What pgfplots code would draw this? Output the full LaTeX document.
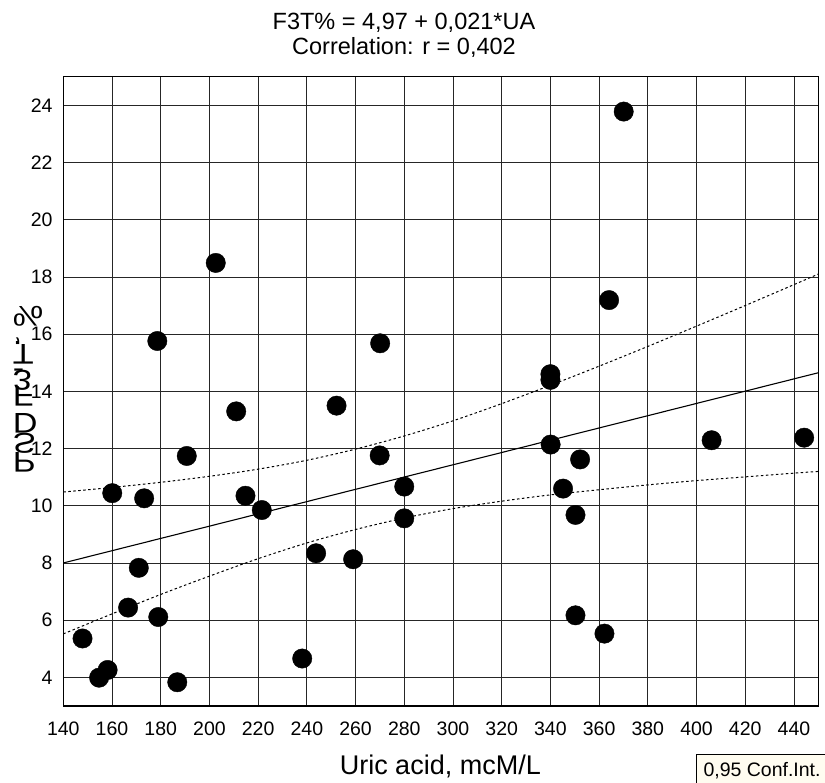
\documentclass[border=0pt]{standalone}
\usepackage{fontspec}
\setmainfont{Liberation Sans}
\usepackage{graphicx}
\usepackage{pgfplots}
\pgfplotsset{compat=1.18}
\definecolor{cream}{RGB}{255,252,240}
\newcommand{\fc}[1]{\sbox0{#1}\makebox[\wd0][c]{\rotatebox{-90}{\scalebox{1.2}[-1]{#1}}}}
\begin{document}
\begin{tikzpicture}
\begin{axis}[
  name=ax,
  scale only axis,
  width=755pt, height=629.3pt,
  xmin=140, xmax=450, ymin=3, ymax=25,
  xtick={140,160,...,440},
  ytick={4,6,...,24},
  grid=major,
  major grid style={black!85, line width=0.8pt},
  axis line style={black, line width=1.1pt},
  major tick length=0pt,
  tick style={draw=none},
  /pgf/number format/assume math mode=true,
  /pgf/number format/1000 sep={},
  ticklabel style={font=\fontsize{19.5}{23}\selectfont},
  xticklabel style={anchor=north, inner sep=0pt, yshift=-16pt},
  yticklabel style={anchor=east, inner sep=0pt, xshift=-10.6pt},
  clip=false,
]
% confidence band (0.95)
\addplot[black, line width=1pt, dash pattern=on 2.5pt off 2.5pt, smooth] coordinates {
(140,10.48) (160,10.64) (180,10.82) (200,11.03) (220,11.28) (240,11.59) (260,11.98)
(280,12.44) (300,12.97) (320,13.57) (340,14.21) (360,14.88) (380,15.57) (400,16.28)
(420,17.00) (440,17.73) (450,18.10)};
\addplot[black, line width=1pt, dash pattern=on 2.5pt off 2.5pt, smooth] coordinates {
(140,5.52) (160,6.22) (180,6.90) (200,7.54) (220,8.15) (240,8.70) (260,9.17)
(280,9.57) (300,9.90) (320,10.16) (340,10.38) (360,10.56) (380,10.73) (400,10.88)
(420,11.01) (440,11.14) (450,11.20)};
% regression line
\addplot[black, line width=1.1pt] coordinates {(140,8.00) (450,14.65)};
% data
\addplot[only marks, mark=*, mark size=9.7pt, black] coordinates {
(202.6,18.49) (178.6,15.76) (270.1,15.68) (211.0,13.30) (252.2,13.50)
(190.7,11.74) (269.9,11.76) (160.1,10.44) (173.2,10.26) (214.8,10.35)
(221.5,9.85) (280.0,10.67) (280.0,9.56) (243.8,8.34) (259.0,8.13)
(171.0,7.83) (166.6,6.44) (179.0,6.11) (147.9,5.36) (158.2,4.26)
(154.7,3.99) (186.8,3.83) (238.1,4.66) (370.1,23.78) (364.1,17.19)
(340.0,14.60) (340.0,14.40) (340.1,12.14) (352.2,11.62) (406.2,12.29)
(444.2,12.38) (345.2,10.60) (350.3,9.68) (350.3,6.17) (362.2,5.53)};
\end{axis}
% title
\node[anchor=base, font=\fontsize{23.5}{27}\selectfont] at (340.7pt,676.7pt) {F3T\% = 4,97 + 0,021*UA};
\node[anchor=base, font=\fontsize{23.5}{27}\selectfont] at (340.7pt,651pt) {Correlation: r = 0,402};
% x label
\node[anchor=base, font=\fontsize{27}{32}\selectfont] at (377pt,-68.7pt) {Uric acid, mcM/L};
% y label (glyphs as rendered in the reference)
\node[rotate=90, anchor=base west, inner sep=0pt, font=\fontsize{28.5}{32}\selectfont] at (-50.5pt,234pt)
  {\fc{P}\fc{S}\fc{D}\hspace{0.278em}\fc{F}\fc{3}\fc{-}\fc{T}\fc{,}\hspace{0.278em}\fc{\%}};
% conf. int. box
\draw[black, line width=0.9pt, fill=cream] (633.4pt,-48.7pt) rectangle (800pt,-120pt);
\node[anchor=base west, inner sep=0pt, font=\fontsize{19.5}{23}\selectfont] at (640pt,-71pt) {0,95 Conf.Int.};
\pgfresetboundingbox
\path[use as bounding box] (-63.3pt,-77pt) rectangle (761.7pt,706pt);
\end{tikzpicture}
\end{document}
